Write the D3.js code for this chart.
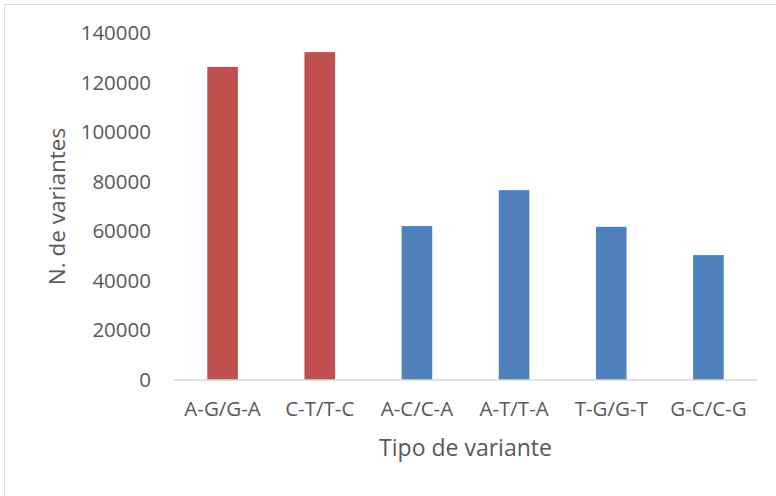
<!DOCTYPE html>
<html>
<head>
<meta charset="utf-8">
<script src="https://cdn.jsdelivr.net/npm/d3@7/dist/d3.min.js"></script>
<style>
  html, body { margin: 0; padding: 0; background: #fff; }
  svg { display: block; }
</style>
</head>
<body>
<svg id="chart" width="776" height="496"></svg>
<script>
// Variant counts by substitution type
const categories = ['A-G/G-A', 'C-T/T-C', 'A-C/C-A', 'A-T/T-A', 'T-G/G-T', 'G-C/C-G'];
const counts = [126300, 132300, 62100, 76600, 61800, 50400];
const isTransition = [true, true, false, false, false, false];
const yTicks = [0, 20000, 40000, 60000, 80000, 100000, 120000, 140000];

const RED = '#c0504d', BLUE = '#4f81bd', TEXT = '#595959';
const FONT = '"Open Sans", sans-serif';

const svg = d3.select('#chart');
const W = 776, H = 496;
const plot = { left: 174, right: 757, top: 33, bottom: 380 };

// chart-area border (continues off the picture at right/bottom)
svg.append('rect')
    .attr('x', 4.5).attr('y', 4.5)
    .attr('width', W + 10).attr('height', H + 10)
    .attr('fill', '#fff')
    .attr('stroke', '#d9d9d9').attr('stroke-width', 1);

const x = d3.scaleBand()
    .domain(categories)
    .range([plot.left, plot.right])
    .paddingInner(0.685).paddingOuter(0.3425);

const y = d3.scaleLinear()
    .domain([0, 140000])
    .range([plot.bottom, plot.top]);

// bars
svg.append('g').selectAll('rect')
    .data(categories)
    .join('rect')
    .attr('x', d => x(d))
    .attr('width', x.bandwidth())
    .attr('y', (d, i) => y(counts[i]))
    .attr('height', (d, i) => y(0) - y(counts[i]))
    .attr('fill', (d, i) => isTransition[i] ? RED : BLUE);

// y axis labels (no axis line)
const yAxis = svg.append('g')
    .attr('transform', 'translate(151,0)')
    .call(d3.axisLeft(y).tickValues(yTicks).tickFormat(d3.format('d')).tickSize(0).tickPadding(0));
yAxis.select('.domain').remove();
yAxis.selectAll('text')
    .attr('fill', TEXT)
    .style('font-family', FONT)
    .style('font-size', '20.5px');

// x axis
const xAxis = svg.append('g')
    .attr('transform', 'translate(0,' + plot.bottom + ')')
    .call(d3.axisBottom(x).tickSize(0).tickPadding(21));
xAxis.select('.domain')
    .attr('stroke', '#d9d9d9').attr('stroke-width', 1.5)
    .attr('d', 'M' + plot.left + ',0H' + plot.right);
xAxis.selectAll('text')
    .attr('fill', TEXT)
    .style('font-family', FONT)
    .style('font-size', '20.5px');

// axis titles
svg.append('text')
    .attr('x', (plot.left + plot.right) / 2).attr('y', 456)
    .attr('text-anchor', 'middle')
    .attr('fill', TEXT)
    .style('font-family', FONT).style('font-size', '23px')
    .text('Tipo de variante');

svg.append('text')
    .attr('transform', 'translate(65,' + (plot.top + plot.bottom) / 2 + ') rotate(-90)')
    .attr('text-anchor', 'middle')
    .attr('fill', TEXT)
    .style('font-family', FONT).style('font-size', '22.5px')
    .text('N. de variantes');
</script>
</body>
</html>
